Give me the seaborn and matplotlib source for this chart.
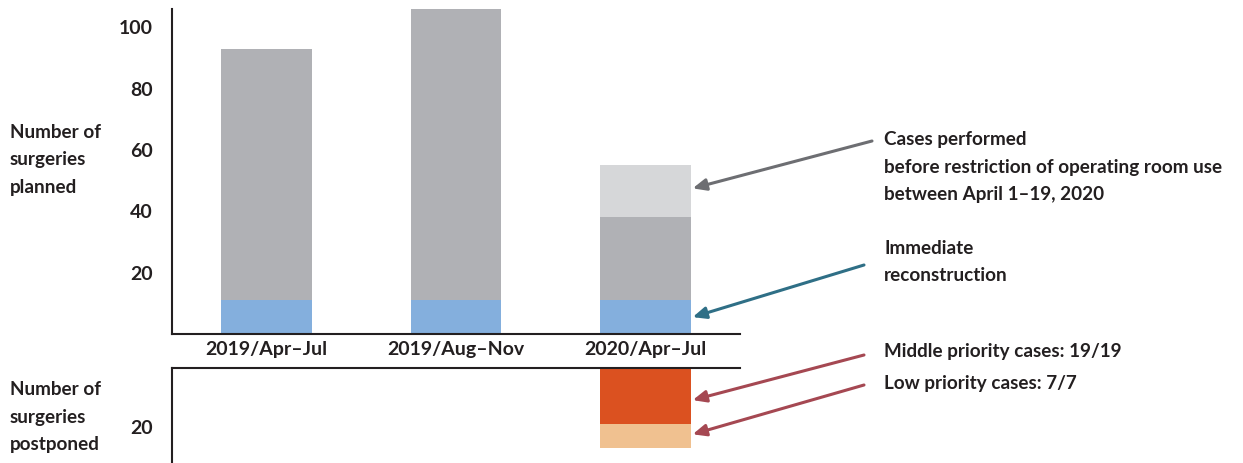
import seaborn as sns
import matplotlib.pyplot as plt
import pandas as pd
import numpy as np

# data
periods = ["2019/Apr\u2013Jul", "2019/Aug\u2013Nov", "2020/Apr\u2013Jul"]
immediate = [11, 11, 11]
other_planned = [82, 95, 27]
before_restriction = [0, 0, 17]
postponed_middle = [0, 0, 19]
postponed_low = [0, 0, 7]

planned_ticks = [20, 40, 60, 80, 100]
postponed_ticks = [20]

c_other = "#b0b1b5"
c_before = "#d6d7d9"
c_immediate = "#84afdd"
c_middle = "#db5120"
c_low = "#f0c190"

sns.set_style("white")
plt.rcParams["font.family"] = ["Lato", "DejaVu Sans"]
plt.rcParams["font.weight"] = "bold"

df = pd.DataFrame({"period": periods,
                   "immediate": immediate,
                   "other": other_planned,
                   "before": before_restriction,
                   "middle": postponed_middle,
                   "low": postponed_low})
df["cum_other"] = df["immediate"] + df["other"]
df["cum_before"] = df["cum_other"] + df["before"]
df["cum_low"] = df["middle"] + df["low"]

fig = plt.figure(figsize=(12.43, 4.63), dpi=100)
W, H = 1243, 463
ax = fig.add_axes([172 / W, 1 - 334 / H, (740 - 172) / W, (334 - 9) / H])
ax2 = fig.add_axes([172 / W, 0, (740 - 172) / W, (463 - 368) / H])

bw = 0.48
bar_kw = dict(width=bw, saturation=1, linewidth=0)
sns.barplot(data=df, x="period", y="cum_before", color=c_before, ax=ax, **bar_kw)
sns.barplot(data=df, x="period", y="cum_other", color=c_other, ax=ax, **bar_kw)
sns.barplot(data=df, x="period", y="immediate", color=c_immediate, ax=ax, **bar_kw)
ax.set_ylim(0, 106)
ax.set_xlim(-0.5, 2.5)
ax.set_yticks(planned_ticks)
ax.set_xlabel("")
ax.set_ylabel("")
for s in ["top", "right"]:
    ax.spines[s].set_visible(False)
for s in ["left", "bottom"]:
    ax.spines[s].set_color("#231f20")
    ax.spines[s].set_linewidth(1.5)
ax.tick_params(axis="y", direction="in", length=7, width=1.2, pad=14, labelsize=14, colors="#231f20")
ax.tick_params(axis="x", length=0, pad=5, labelsize=14, colors="#231f20")

sns.barplot(data=df, x="period", y="cum_low", color=c_low, ax=ax2, **bar_kw)
sns.barplot(data=df, x="period", y="middle", color=c_middle, ax=ax2, **bar_kw)
ax2.set_ylim(30.4, 2.6)
ax2.set_xlim(-0.5, 2.5)
ax2.set_yticks(postponed_ticks)
ax2.set_xticks([])
ax2.set_xlabel("")
ax2.set_ylabel("")
for s in ["bottom", "right"]:
    ax2.spines[s].set_visible(False)
for s in ["left", "top"]:
    ax2.spines[s].set_color("#231f20")
    ax2.spines[s].set_linewidth(1.5)
ax2.tick_params(axis="y", direction="in", length=7, width=1.2, pad=14, labelsize=14, colors="#231f20")

txt = dict(fontsize=13.6, color="#231f20", va="center", ha="left", linespacing=1.78)
fig.text(10 / W, 1 - 160 / H, "Number of\nsurgeries\nplanned", **txt)
fig.text(10 / W, 1 - 417 / H, "Number of\nsurgeries\npostponed", **txt)

x_edge = 2 + bw / 2
ann = [
    (ax, (df["cum_other"][2] + df["cum_before"][2]) / 2 + 1,
     "Cases performed\nbefore restriction of operating room use\nbetween April 1\u201319, 2020",
     (884, 167), (872, 141), "#6d6e72"),
    (ax, df["immediate"][2] / 2, "Immediate\nreconstruction", (884, 262), (864, 265), "#2f6f86"),
    (ax2, df["middle"][2] / 2 + 2.5, "Middle priority cases: 19/19", (884, 351), (864, 355), "#a54852"),
    (ax2, df["middle"][2] + df["low"][2] / 2 - 0.5, "Low priority cases: 7/7", (884, 384), (864, 385), "#a54852"),
]
for a, y, label, tpos, apos, col in ann:
    fig.text(tpos[0] / W, 1 - tpos[1] / H, label, **txt)
    a.annotate("", xy=(x_edge + 0.01, y), xycoords="data",
               xytext=(apos[0] / W, 1 - apos[1] / H), textcoords="figure fraction",
               arrowprops=dict(arrowstyle="-|>,head_length=0.8,head_width=0.35",
                               color=col, lw=2.2, shrinkA=0, shrinkB=0),
               annotation_clip=False)

fig.savefig("out.png", dpi=100)
